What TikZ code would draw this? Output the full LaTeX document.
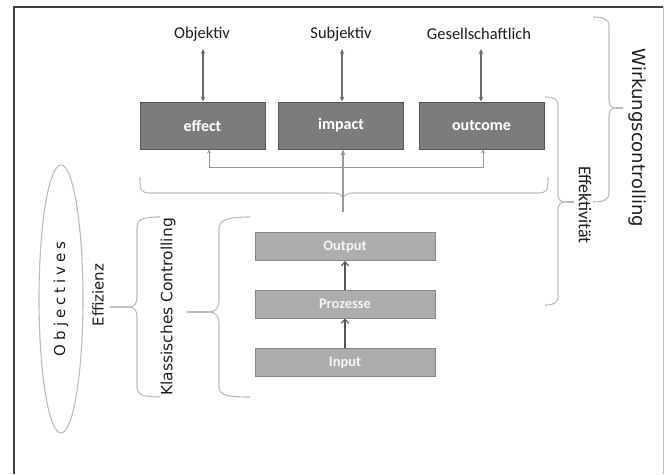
\documentclass[tikz,border=0pt]{standalone}
\usepackage{fontspec}
\setmainfont{Carlito}
\newfontfamily\dv{DejaVu Sans}
\newfontfamily\dvsp[LetterSpace=26]{DejaVu Sans}
\usetikzlibrary{arrows.meta,shapes.geometric}
\definecolor{darkbox}{HTML}{7C7C7C}
\definecolor{darkedge}{HTML}{555555}
\definecolor{lightbox}{HTML}{ADADAD}
\definecolor{lightedge}{HTML}{888888}
\definecolor{bracecol}{HTML}{BDBDBD}
\definecolor{arrowcol}{HTML}{6A6A6A}
\definecolor{conncol}{HTML}{999999}
\definecolor{txtcol}{HTML}{1E1E1E}
\tikzset{
  upbox/.style={draw=darkedge, line width=0.9pt, fill=darkbox, minimum width=125pt, minimum height=47pt, inner sep=0pt, text=white, font=\bfseries\fontsize{16}{19}\selectfont},
  lowbox/.style={draw=lightedge, line width=0.9pt, fill=lightbox, minimum width=180pt, minimum height=28pt, inner sep=0pt, text=white!92!gray, font=\bfseries\fontsize{14.5}{17}\selectfont},
  toplabel/.style={text=txtcol, font=\fontsize{16.5}{19}\selectfont, inner sep=1pt},
  toparrow/.style={draw=arrowcol, line width=1.1pt, {Stealth[length=5pt,width=4.5pt]}-{Stealth[length=5pt,width=4.5pt]}},
  lowarrow/.style={draw=darkedge, line width=1.1pt, -{Straight Barb[length=4pt,width=7pt]}},
  conn/.style={draw=conncol, line width=0.9pt},
  bracestyle/.style={draw=bracecol, line width=1.1pt},
  sidetext/.style={text=txtcol, inner sep=0pt}
}
\begin{document}
\begin{tikzpicture}[x=1pt,y=-1pt]
\useasboundingbox (0,0) rectangle (666,474);
% frame
\draw[line width=1.2pt, draw=black!75] (14,474) -- (14,7) -- (663,7);
\draw[line width=0.8pt, draw=black!25] (663,7) -- (663,474);

% top labels
\node[toplabel] (objektiv) at (202,34) {Objektiv};
\node[toplabel] (subjektiv) at (341,34) {Subjektiv};
\node[toplabel] (gesell) at (479,34) {Gesellschaftlich};

% upper boxes
\node[upbox] (effect) at (202.5,125.5) {effect};
\node[upbox] (impact) at (341,125.5) {impact};
\node[upbox] (outcome) at (481.5,125.5) {outcome};

\coordinate (oa) at (203,49);
\coordinate (sa) at (342,49);
\coordinate (ga) at (481,49);
\draw[toparrow] (oa) -- (oa |- effect.north);
\draw[toparrow] (sa) -- (sa |- impact.north);
\draw[toparrow] (ga) -- (ga |- outcome.north);

% connector under boxes
\coordinate (cl) at (209,167);
\coordinate (cr) at (483,167);
\draw[conn, {Stealth[length=4pt,width=4pt]}-{Stealth[length=4pt,width=4pt]}] (cl |- effect.south) -- (cl) -- (cr) -- (cr |- outcome.south);

% horizontal brace
\draw[bracestyle] (140,177) .. controls (140,190) and (141,193) .. (150,193) -- (333,193)
  .. controls (339,193) and (343,195) .. (343,200)
  .. controls (343,195) and (347,193) .. (353,193) -- (538,193)
  .. controls (547,193) and (548,190) .. (548,177);
\coordinate (htip) at (343,212);
\draw[conn, line width=1.1pt, -{Stealth[length=6pt,width=5pt]}] (htip) -- (htip |- impact.south);

% lower boxes
\node[lowbox] (output) at (345,246.5) {Output};
\node[lowbox] (prozesse) at (345,304) {Prozesse};
\node[lowbox] (input) at (345,362.5) {Input};
\draw[lowarrow] (prozesse) -- (output);
\draw[lowarrow] (input) -- (prozesse);

% left brace 2 (around boxes)
\draw[bracestyle] (250,217) .. controls (226,217) and (219,220) .. (219,230) -- (219,300)
  .. controls (219,308) and (215,312) .. (209,312)
  .. controls (215,312) and (219,316) .. (219,324) -- (219,386)
  .. controls (219,395) and (226,397) .. (250,397);
\draw[bracestyle] (209,312) -- (187,312);

% Klassisches Controlling
\node[sidetext, rotate=90, font=\dv\fontsize{15.5}{18}\selectfont] (klass) at (168,307) {Klassisches Controlling};

% left brace 1
\draw[bracestyle] (160,217) .. controls (143,217) and (137,219) .. (137,228) -- (137,297)
  .. controls (137,304) and (134,307) .. (129,307)
  .. controls (134,307) and (137,310) .. (137,317) -- (137,386)
  .. controls (137,395) and (143,397) .. (160,397);
\draw[bracestyle] (129,307) -- (110,307);

% Effizienz
\node[sidetext, rotate=90, font=\dv\fontsize{15}{18}\selectfont] (effizienz) at (98,295) {Effizienz};

% Objectives ellipse
\node[ellipse, draw=bracecol, line width=1.1pt, minimum width=44pt, minimum height=268pt, inner sep=0pt] (objell) at (61,299) {};
\node[sidetext, rotate=90, font=\dvsp\fontsize{15}{18}\selectfont] (objtext) at (objell.center) {Objectives};

% right braces
\draw[bracestyle] (545,97) .. controls (554,97) and (558,99) .. (558,106) -- (558,194)
  .. controls (558,199) and (560,202) .. (565,202)
  .. controls (560,202) and (558,205) .. (558,210) -- (558,296)
  .. controls (558,303) and (554,305) .. (545,305);
\draw[bracestyle] (565,202) -- (574,202);
\node[sidetext, rotate=-90, font=\fontsize{18}{21}\selectfont] (effektiv) at (585,205) {Effektivität};

\draw[bracestyle] (593,17) .. controls (603,17) and (609,19) .. (609,26) -- (609,100)
  .. controls (609,105) and (611,108) .. (616,108)
  .. controls (611,108) and (609,111) .. (609,116) -- (609,193)
  .. controls (609,200) and (603,202) .. (593,202);
\draw[bracestyle] (616,108) -- (623,108);
\node[sidetext, rotate=-90, font=\dv\fontsize{18}{21}\selectfont] (wirkung) at (637,138) {Wirkungscontrolling};
\end{tikzpicture}
\end{document}
